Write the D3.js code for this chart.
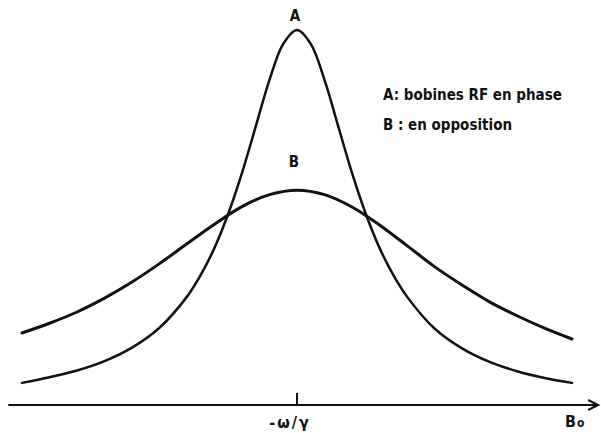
<!DOCTYPE html>
<html>
<head>
	<meta charset="utf-8">
	<title>Resonance curves</title>
	<script src="https://d3js.org/d3.v7.min.js"></script>
	<style>
	body { margin: 0; background: #fff; }
	.curve { fill: none; stroke: #111; stroke-linejoin: round; stroke-linecap: round; }
	.axis-line { stroke: #111; stroke-width: 2; }
	text { font-family: "DejaVu Sans Condensed", "DejaVu Sans", sans-serif; font-weight: bold; fill: #111; }
	</style>
</head>
<body>
	<div id="chart"></div>

	<script>
		// field offset from resonance (arbitrary units), signal in % of A's peak
		var fieldA = [-10, -9, -8, -7, -6, -5, -4, -3.5, -3, -2.5, -2, -1.5, -1, -0.5, 0, 0.5, 1, 1.5, 2, 2.5, 3, 3.5, 4, 5, 6, 7, 8, 9, 10];
		var signalA = [5.9, 7.4, 9.2, 11.7, 15.3, 20.6, 28.9, 34.7, 41.9, 51, 61.9, 74.3, 86.7, 96.3, 100, 96.3, 86.7, 74.3, 61.9, 51, 41.9, 34.7, 28.9, 20.4, 15.1, 11.5, 9, 7.2, 5.9];
		var fieldB = [-10, -9, -8, -7, -6, -5, -4, -3, -2, -1, 0, 1, 2, 3, 4, 5, 6, 7, 8, 9, 10];
		var signalB = [19.2, 21.8, 24.8, 28.5, 32.8, 37.7, 43, 48.2, 52.9, 56.1, 57.3, 56.1, 52.8, 48, 42.5, 36.9, 32, 27.5, 23.8, 20.5, 17.6];

		var legendLines = ["A: bobines RF en phase", "B : en opposition"];
		var centerLabel = "-\u03c9/\u03b3";

		var svg = d3.select("#chart").append("svg")
			.attr("width", 601)
			.attr("height", 433);

		var x = d3.scaleLinear().domain([-10, 10]).range([22, 572]);
		var y = d3.scaleLinear().domain([0, 100]).range([405, 30]);

		var line = d3.line()
			.x(function(d) { return x(d[0]); })
			.y(function(d) { return y(d[1]); })
			.curve(d3.curveCatmullRom.alpha(0.5));

		var dataA = d3.zip(fieldA, signalA),
		    dataB = d3.zip(fieldB, signalB);

		svg.append("path").attr("class", "curve")
			.attr("stroke-width", 2.5)
			.attr("d", line(dataA));
		svg.append("path").attr("class", "curve")
			.attr("stroke-width", 3)
			.attr("d", line(dataB));

		// horizontal field axis with arrow
		var x0 = x(-10.5), x1 = x(10.95);
		svg.append("line").attr("class", "axis-line")
			.attr("x1", x0).attr("x2", x1 - 1)
			.attr("y1", y(0)).attr("y2", y(0));
		svg.append("path")
			.attr("d", "M" + (x1 - 10) + "," + (y(0) - 5) + "L" + x1 + "," + y(0) + "L" + (x1 - 10) + "," + (y(0) + 5))
			.attr("fill", "none").attr("stroke", "#111").attr("stroke-width", 2);

		// resonance tick
		svg.append("line").attr("class", "axis-line")
			.attr("x1", x(0)).attr("x2", x(0))
			.attr("y1", y(0)).attr("y2", y(0) - 12);

		svg.append("text")
			.attr("x", 290).attr("y", 428)
			.attr("text-anchor", "middle")
			.attr("font-size", 16)
			.attr("letter-spacing", 2)
			.text(centerLabel);

		var b0 = svg.append("text")
			.attr("x", 565).attr("y", 427)
			.attr("font-size", 16);
		b0.append("tspan").text("B");
		b0.append("tspan").attr("font-size", 12).attr("dx", 1).text("o");

		// curve labels
		svg.append("text")
			.attr("x", 295).attr("y", 21)
			.attr("text-anchor", "middle")
			.attr("font-size", 15)
			.text("A");
		svg.append("text")
			.attr("x", 294).attr("y", 167)
			.attr("text-anchor", "middle")
			.attr("font-size", 15)
			.text("B");

		// legend
		svg.selectAll(".legend")
			.data(legendLines)
			.enter().append("text")
			.attr("class", "legend")
			.attr("x", 383)
			.attr("y", function(d, i) { return 100 + i * 30; })
			.attr("font-size", 15)
			.text(function(d) { return d; });
	</script>
</body>
</html>
